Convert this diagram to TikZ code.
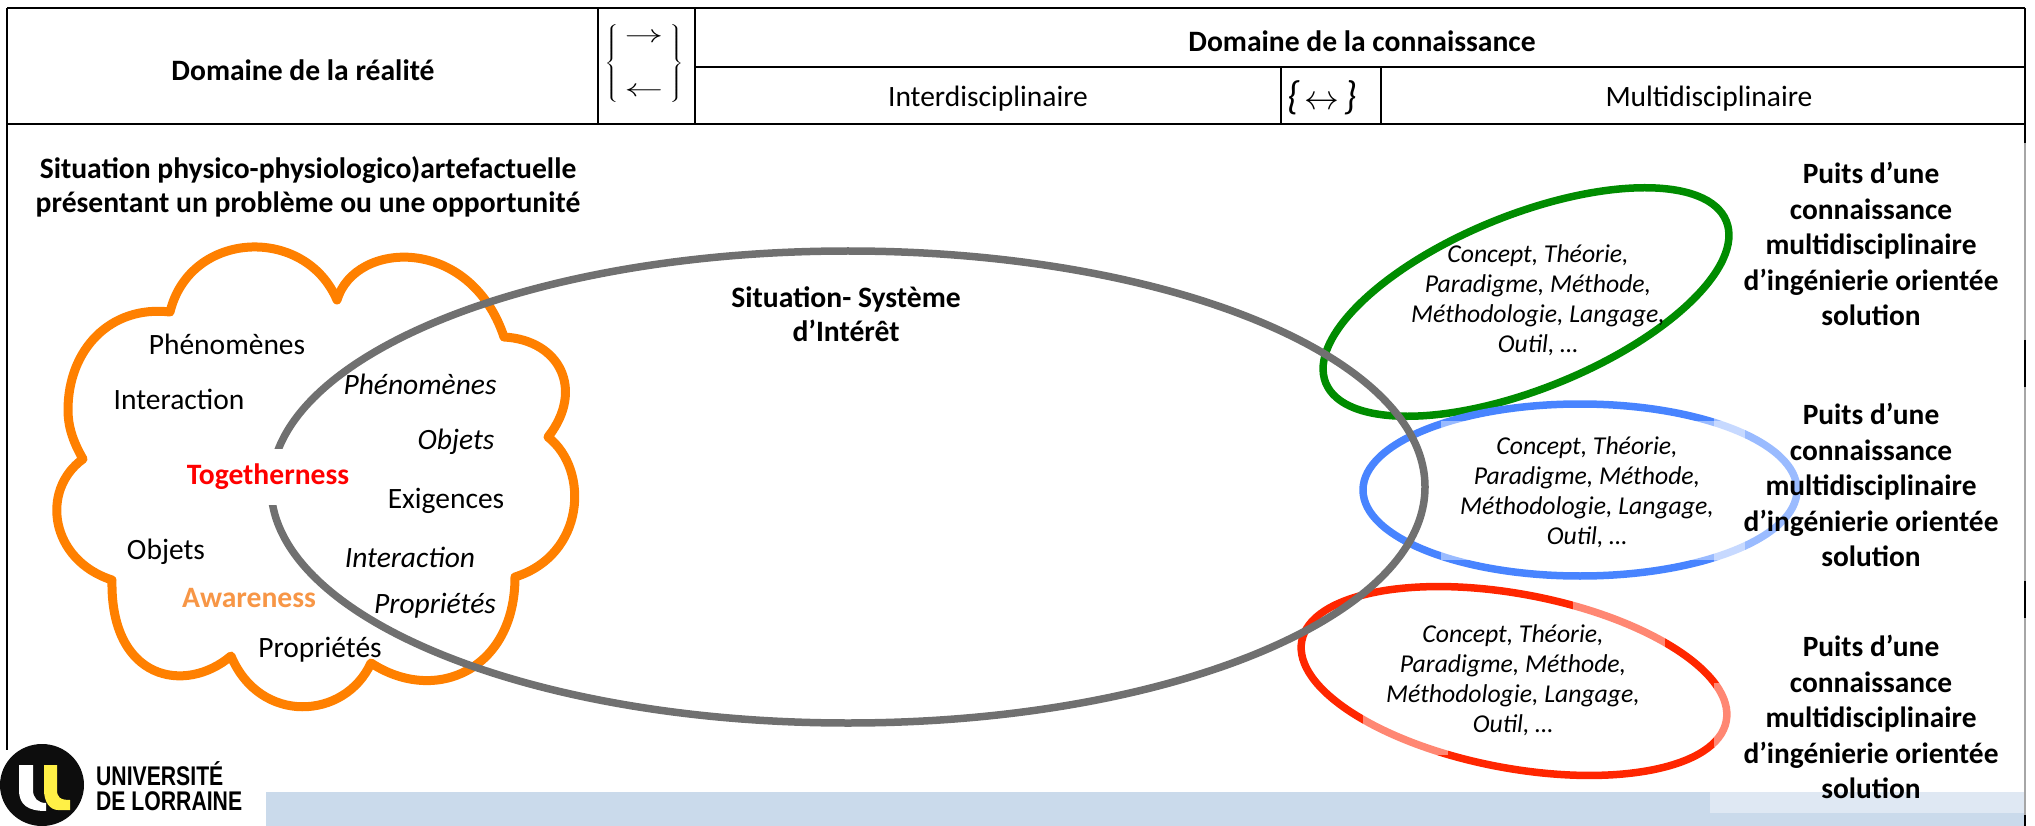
\documentclass[tikz,border=0pt]{standalone}
\usepackage{fontspec}
\setmainfont{Carlito}
\newfontfamily\logofont{Liberation Sans}
\definecolor{nuage}{RGB}{255,128,0}
\definecolor{situation}{RGB}{112,112,112}
\definecolor{vert}{RGB}{0,140,0}
\definecolor{bleu}{RGB}{72,132,255}
\definecolor{rouge}{RGB}{255,38,0}
\definecolor{bandeau}{RGB}{202,218,235}
\definecolor{bandeauclair}{RGB}{223,232,243}
\definecolor{prise}{RGB}{247,150,70}
\definecolor{jaune}{RGB}{255,240,70}
\tikzset{
  filet/.style={line width=1.6pt,black},
  filetgris/.style={line width=1.6pt,gray!70},
  contour/.style={line width=7.5pt},
  titre/.style={font=\fontsize{29.6}{34.5}\selectfont\bfseries,align=center,inner sep=0pt},
  entete/.style={font=\fontsize{29.5}{30}\selectfont,inner sep=0pt},
  mot/.style={font=\fontsize{29.5}{35}\selectfont,text height=.7em,text depth=.2em,inner sep=0pt,yshift=-8pt},
  motit/.style={mot,font=\fontsize{29.5}{35}\selectfont\itshape},
  motfort/.style={font=\fontsize{29.6}{30}\selectfont\bfseries,inner sep=0pt},
  liste/.style={font=\fontsize{25.7}{30}\selectfont\itshape,align=center,inner sep=0pt},
  puits/.style={font=\fontsize{29.4}{35.5}\selectfont\bfseries,align=center,inner sep=0pt},
  voile/.style={white,opacity=.45},
  logotexte/.style={anchor=west,inner sep=0pt,xscale=.785,text height=20pt,text depth=0pt,font=\logofont\bfseries\fontsize{27}{28}\selectfont}
}
\begin{document}
\begin{tikzpicture}[x=1pt,y=-1pt]
\useasboundingbox (0,0) rectangle (2035,826);
\fill[bandeau] (266,792) rectangle (2025,826);
\fill[bandeauclair] (1710,792) rectangle (2025,813);

\draw[filet] (7,8) -- (2025,8);
\draw[filet] (7,124) -- (2025,124);
\draw[filet] (695,67) -- (2025,67);
\draw[filet] (7,8) -- (7,750);
\draw[filet] (598,8) -- (598,124);
\draw[filet] (695,8) -- (695,124);
\draw[filet] (1281,67) -- (1281,124);
\draw[filet] (1381,67) -- (1381,124);
\draw[filet] (2025,8) -- (2025,143);
\draw[filetgris] (2025,143) -- (2025,340);
\draw[filet] (2025,340) -- (2025,387);
\draw[filetgris] (2025,387) -- (2025,581);
\draw[filet] (2025,581) -- (2025,618);
\draw[filetgris] (2025,618) -- (2025,815);
\draw[filet] (2025,815) -- (2025,826);

\node[titre] (reel) at (303,70) {Domaine de la réalité};
\node[titre] (savoir) at (1362,41) {Domaine de la connaissance};
\node[entete] (inter) at (988,99) {Interdisciplinaire};
\node[entete] (multi) at (1709,99) {Multidisciplinaire};
\node[inner sep=0pt,xscale=1.55,font=\fontsize{24}{26}\selectfont] (accolade) at (644,64)
  {$\left\{\begin{array}{@{\,}c@{\,}}\rightarrow\\[28pt]\leftarrow\end{array}\right\}$};
\node[inner sep=0pt,font=\fontsize{30}{30}\selectfont] (lien) at (1322,98)
  {{\fontsize{40}{40}\selectfont\textit{\{}}\,\scalebox{1.4}{$\leftrightarrow$}\,{\fontsize{40}{40}\selectfont\textit{\}}}};

\draw[contour,line width=9pt,line join=round,nuage] (337,300)
  .. controls (355,240) and (470,235) .. (504,337)
  .. controls (560,340) and (585,390) .. (548,437)
  .. controls (590,470) and (585,555) .. (515,577)
  .. controls (515,670) and (435,705) .. (371,663)
  .. controls (345,720) and (260,725) .. (231,656)
  .. controls (185,695) and (110,680) .. (112,580)
  .. controls (50,560) and (40,490) .. (83,459)
  .. controls (72,440) and (68,425) .. (68,410)
  .. controls (68,350) and (110,305) .. (170,312)
  .. controls (190,230) and (305,225) .. (337,300) -- cycle;

\draw[contour,vert,rotate around={22:(1526,302)}] (1526,302) ellipse [x radius=216,y radius=87];
\draw[contour,bleu] (1580,490) ellipse [x radius=217,y radius=86];
\draw[contour,rouge,rotate around={-10.7:(1514,681)}] (1514,681) ellipse [x radius=216,y radius=87];
\fill[voile] (1441,421) rectangle (1714,560);
\fill[voile] (1714,400) rectangle (1810,580);
\fill[voile] (1714,421) rectangle (1745,560);
\fill[voile] (1573,600) rectangle (1665,660);
\fill[voile] (1714,683) rectangle (1740,747);
\fill[voile] (1363,705) rectangle (1448,755);
\draw[contour,situation] (848,487) ellipse [x radius=577,y radius=236];

\node[titre] (contexte) at (308,187) {Situation physico-physiologico)artefactuelle\\présentant un problème ou une opportunité};
\node[titre] (systeme) at (846,314) {Situation- Système\\d’Intérêt};

\node[mot] (phenomenes) at (227,344) {Phénomènes};
\node[mot] (interaction) at (179,399) {Interaction};
\node[motfort,text=red,fill=white,minimum height=56pt] (ensemble) at (268,477) {Togetherness};
\node[mot] (objets) at (166,549) {Objets};
\node[motfort,text=prise] (conscience) at (249,598) {Awareness};
\node[mot] (proprietes) at (320,647) {Propriétés};
\node[motit] (phenomenesit) at (420,384) {Phénomènes};
\node[motit] (objetsit) at (456,439) {Objets};
\node[mot] (exigences) at (446,498) {Exigences};
\node[motit] (interactionit) at (410,557) {Interaction};
\node[motit] (proprietesit) at (435,603) {Propriétés};

\node[liste] (listevert) at (1538,300) {Concept, Théorie,\\Paradigme, Méthode,\\Méthodologie, Langage,\\Outil, …};
\node[liste] (listebleu) at (1587,492) {Concept, Théorie,\\Paradigme, Méthode,\\Méthodologie, Langage,\\Outil, …};
\node[liste] (listerouge) at (1513,680) {Concept, Théorie,\\Paradigme, Méthode,\\Méthodologie, Langage,\\Outil, …};

\node[puits] (puitsvert) at (1871,244) {Puits d’une\\connaissance\\multidisciplinaire\\d’ingénierie orientée\\solution};
\node[puits] (puitsbleu) at (1871,485) {Puits d’une\\connaissance\\multidisciplinaire\\d’ingénierie orientée\\solution};
\node[puits] (puitsrouge) at (1871,717) {Puits d’une\\connaissance\\multidisciplinaire\\d’ingénierie orientée\\solution};

\fill[black!95] (42,785) ellipse [x radius=42,y radius=41];
\fill[white] (19,765) -- (33,765) -- (33,790) .. controls (33,798) and (38,803) .. (46,803) -- (46,811) .. controls (28,811) and (19,805) .. (19,790) -- cycle;
\fill[jaune] (44,765) -- (57,765) -- (57,790) .. controls (57,797) and (60,800) .. (70,800) -- (70,810) -- (58,810) .. controls (50,810) and (44,802) .. (44,790) -- cycle;
\node[logotexte] (universite) at (96,775) {UNIVERSITÉ};
\node[logotexte] (lorraine) at (96,800) {DE LORRAINE};
\end{tikzpicture}
\end{document}
